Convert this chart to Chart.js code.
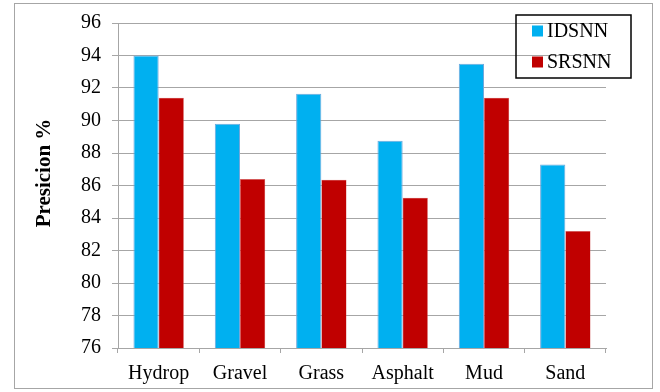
<!DOCTYPE html>
<html>
<head>
<meta charset="utf-8">
<script src="https://cdn.jsdelivr.net/npm/chart.js@4/dist/chart.umd.min.js"></script>
<style>
  body { margin: 0; background: #fff; }
  #wrap { width: 660px; height: 392px; position: relative; }
</style>
</head>
<body>
<div id="wrap"><canvas id="chart"></canvas></div>
<script>
// data
const categories = ["Hydrop", "Gravel", "Grass", "Asphalt", "Mud", "Sand"];
const idsnn = [94.0, 89.8, 91.65, 88.75, 93.5, 87.3];
const srsnn = [91.4, 86.4, 86.35, 85.25, 91.4, 83.2];
const seriesNames = ["IDSNN", "SRSNN"];
const yTicks = [76, 96, 2]; // min, max, step
const yTitle = "Presicion %";

const serif = "'Liberation Serif', 'Times New Roman', serif";

// outer frame, y title and legend box inside the plot
const decor = {
  id: "decor",
  afterDraw(chart) {
    const ctx = chart.ctx;
    ctx.save();
    ctx.strokeStyle = "#a6a6a6";
    ctx.lineWidth = 1;
    ctx.strokeRect(14.5, 3.5, 638, 385);

    // y axis title (sits a bit above the plot middle in the original)
    ctx.save();
    ctx.translate(45, 173);
    ctx.rotate(-Math.PI / 2);
    ctx.font = "bold 21px " + serif;
    ctx.fillStyle = "#000";
    ctx.textAlign = "center";
    ctx.textBaseline = "middle";
    ctx.fillText(yTitle, 0, 0);
    ctx.restore();

    // legend
    const x = 516, y = 15, w = 115, h = 63;
    ctx.strokeStyle = "#000";
    ctx.lineWidth = 1.5;
    ctx.strokeRect(x, y, w, h);
    ctx.font = "20px " + serif;
    ctx.textBaseline = "middle";
    chart.data.datasets.forEach((ds, i) => {
      const cy = y + 16 + i * 31;
      ctx.fillStyle = ds.backgroundColor;
      ctx.fillRect(x + 16, cy - 5.5, 11, 11);
      ctx.fillStyle = "#000";
      ctx.fillText(ds.label, x + 31, cy + 1);
    });
    ctx.restore();
  }
};

new Chart(document.getElementById("chart"), {
  type: "bar",
  data: {
    labels: categories,
    datasets: [
      {
        label: seriesNames[0],
        data: idsnn,
        backgroundColor: "#00b0f0",
        borderColor: "#6fa8dc",
        borderWidth: 1
      },
      {
        label: seriesNames[1],
        data: srsnn,
        backgroundColor: "#c00000",
        borderColor: "#d46a6a",
        borderWidth: 0.5
      }
    ]
  },
  options: {
    responsive: true,
    maintainAspectRatio: false,
    animation: false,
    layout: { padding: { top: 23, right: 54, bottom: 0, left: 0 } },
    datasets: { bar: { barPercentage: 1, categoryPercentage: 0.62 } },
    plugins: {
      legend: { display: false },
      tooltip: { enabled: false }
    },
    scales: {
      x: {
        grid: {
          drawOnChartArea: false,
          color: "#a6a6a6",
          tickLength: 5
        },
        border: { color: "#a6a6a6" },
        ticks: {
          color: "#000",
          font: { family: serif, size: 20 },
          padding: 9
        },
        afterFit(scale) { scale.height = 44; }
      },
      y: {
        min: yTicks[0],
        max: yTicks[1],
        grid: { color: "#a6a6a6", tickLength: 6 },
        border: { color: "#a6a6a6" },
        ticks: {
          stepSize: yTicks[2],
          color: "#000",
          font: { family: serif, size: 20 },
          padding: 11
        },
        afterFit(scale) { scale.width = 118; }
      }
    }
  },
  plugins: [decor]
});
</script>
</body>
</html>
